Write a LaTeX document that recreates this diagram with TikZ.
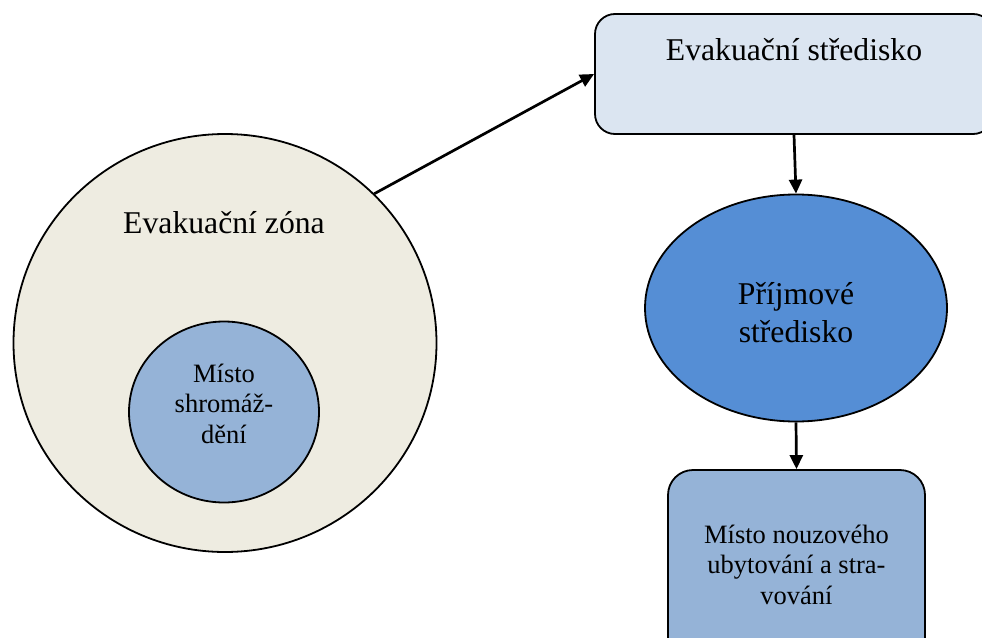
\documentclass[tikz,border=0pt]{standalone}
\usepackage{fontspec}
\setmainfont{Liberation Serif}
\usetikzlibrary{arrows.meta,shapes.geometric}

\definecolor{zonefill}{HTML}{EEECE1}
\definecolor{mistofill}{HTML}{95B3D7}
\definecolor{evakfill}{HTML}{DBE5F1}
\definecolor{prijemfill}{HTML}{558ED5}

\begin{document}
\begin{tikzpicture}[x=1pt, y=-1pt,
    border/.style={draw, line width=1.8pt, inner sep=0pt},
    link/.style={line width=2.7pt, -{Triangle[length=14pt, width=13pt]}},
    bigtext/.style={font=\fontsize{31.7}{38}\selectfont, align=center},
    smalltext/.style={font=\fontsize{26.5}{30.5}\selectfont, align=center}]
    \useasboundingbox (0,0) rectangle (982,637);

    % Evacuation zone with the assembly point inside
    \node[border, ellipse, fill=zonefill, minimum width=423pt, minimum height=418pt] (zona) at (225,343) {};
    \node[bigtext, anchor=base] (zonatext) at (224,233) {Evakuační zóna};
    \node[border, ellipse, fill=mistofill, minimum width=190pt, minimum height=181pt] (misto) at (224,412) {};
    \node[smalltext, anchor=base] (mistotext) at (224,443) {Místo\\shromáž-\\dění};

    % Evacuation centre
    \node[border, rectangle, rounded corners=20pt, fill=evakfill, minimum width=398pt, minimum height=120pt] (stredisko) at (794,74) {};
    \node[bigtext, anchor=base] (strediskotext) at (794,60) {Evakuační středisko};

    % Reception centre
    \node[border, ellipse, fill=prijemfill, minimum width=302pt, minimum height=227pt] (prijem) at (796,308) {};
    \node[bigtext, anchor=base] (prijemtext) at (796,342) {Příjmové\\středisko};

    % Emergency accommodation
    \node[border, rectangle, rounded corners=25pt, fill=mistofill, minimum width=257pt, minimum height=196pt] (ubytovani) at (796.5,568) {};
    \node[smalltext, anchor=base] (ubytovanitext) at (796.5,604) {Místo nouzového\\ubytování a stra-\\vování};

    % Arrows between the stations
    \draw[link] (zona.45) -- (stredisko.west);
    \draw[link] (stredisko.south) -- (prijem.north);
    \draw[link] (prijem.south) -- (ubytovani.north);
\end{tikzpicture}
\end{document}
